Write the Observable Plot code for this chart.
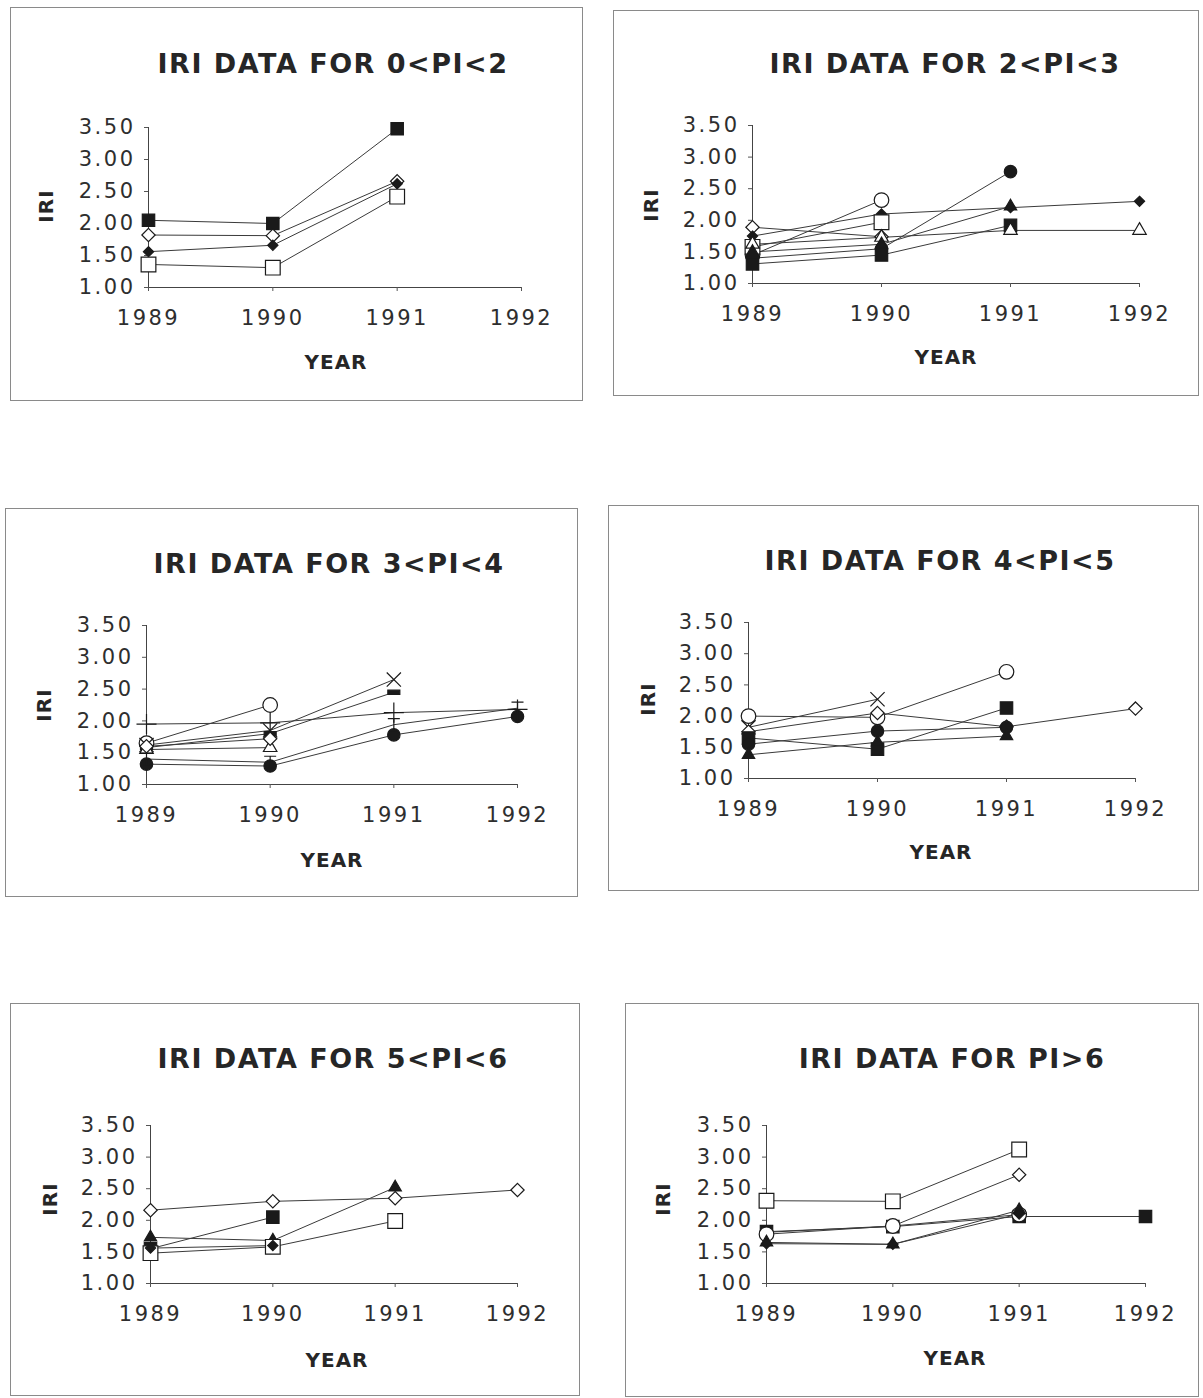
<!DOCTYPE html>
<html>
<head>
<meta charset="utf-8">
<script src="https://cdn.jsdelivr.net/npm/d3@7"></script>
<script src="https://cdn.jsdelivr.net/npm/@observablehq/plot@0.6"></script>
<style>
  body { margin: 0; background: #fff; }
  #page { position: relative; width: 1203px; height: 1398px; overflow: hidden; background: #fff; }
  .box { position: absolute; border: 1.5px solid #8a8a8a; box-sizing: border-box; }
  .title { position: absolute; font-family: "DejaVu Sans"; font-weight: bold; font-size: 27px; letter-spacing: 1.5px; color: #262626; white-space: nowrap; transform: translate(-50%, -50%); }
  .xlab { position: absolute; font-family: "DejaVu Sans"; font-weight: bold; font-size: 20px; letter-spacing: 1px; color: #262626; white-space: nowrap; transform: translate(-50%, -50%); }
  .ylab { position: absolute; font-family: "DejaVu Sans"; font-weight: bold; font-size: 20px; letter-spacing: 1px; color: #262626; white-space: nowrap; transform: translate(-50%, -50%) rotate(-90deg); }
  .chart { position: absolute; }
  #page svg text { letter-spacing: 2.5px; }
</style>
</head>
<body>
<div id="page"></div>
<script>
// ---------- data ----------
const years = [1989, 1990, 1991, 1992];
const yTicks = [1.00, 1.50, 2.00, 2.50, 3.00, 3.50];
const titles = ["IRI DATA FOR 0<PI<2", "IRI DATA FOR 2<PI<3", "IRI DATA FOR 3<PI<4",
                "IRI DATA FOR 4<PI<5", "IRI DATA FOR 5<PI<6", "IRI DATA FOR PI>6"];
const xTitle = "YEAR";
const yTitle = "IRI";

// Panel 1: 0<PI<2
const p1Markers = ["filled square", "open diamond", "filled diamond", "open square"];
const p1Values = [
  [2.05, 2.00, 3.48],
  [1.82, 1.81, 2.66],
  [1.56, 1.66, 2.62],
  [1.36, 1.31, 2.42]
];

// Panel 2: 2<PI<3
const p2Markers = ["open diamond", "filled diamond", "open circle", "open square",
                   "filled circle", "filled square", "open triangle", "filled triangle"];
const p2Values = [
  [1.89, 1.74],
  [1.75, 2.10, 2.20, 2.30],
  [1.45, 2.32],
  [1.58, 1.97],
  [1.40, 1.55, 2.77],
  [1.31, 1.45, 1.92],
  [1.62, 1.73, 1.84, 1.84],
  [1.50, 1.62, 2.22]
];

// Panel 3: 3<PI<4
const p3Markers = ["open circle", "filled circle", "cross", "bar", "plus",
                   "open triangle", "open diamond", "ibeam"];
const p3Values = [
  [1.65, 2.25],
  [1.32, 1.29, 1.78, 2.07],
  [1.62, 1.85, 2.65],
  [1.58, 1.80, 2.45],
  [1.95, 1.97, 2.13, 2.18],
  [1.55, 1.58],
  [1.60, 1.72],
  [1.40, 1.35, 1.94, 2.20]
];

// Panel 4: 4<PI<5
const p4Markers = ["open circle", "cross", "open diamond", "filled square",
                   "filled circle", "filled triangle"];
const p4Values = [
  [2.00, 1.98, 2.71],
  [1.82, 2.27],
  [1.75, 2.05, 1.83, 2.12],
  [1.65, 1.47, 2.13],
  [1.55, 1.76, 1.82],
  [1.38, 1.58, 1.68]
];

// Panel 5: 5<PI<6
const p5Markers = ["open diamond", "filled square", "filled triangle", "open square", "filled diamond"];
const p5Values = [
  [2.16, 2.30, 2.35, 2.48],
  [1.55, 2.05],
  [1.73, 1.68, 2.52],
  [1.48, 1.58, 1.99],
  [1.56, 1.60]
];

// Panel 6: PI>6
const p6Markers = ["open square", "open diamond", "filled square", "open circle",
                   "filled triangle", "filled diamond"];
const p6Values = [
  [2.31, 2.30, 3.12],
  [1.81, 1.91, 2.72],
  [1.82, 1.90, 2.06, 2.06],
  [1.78, 1.91, 2.09],
  [1.65, 1.62, 2.16],
  [1.63, 1.62, 2.10]
];

// ---------- styles & layout ----------
const INK = "#1a1a1a";
const dashSymbol = {
  draw(ctx, size) { const r = Math.sqrt(size / Math.PI); ctx.rect(-r, -r * 0.35, 2 * r, r * 0.7); }
};
const ibeamSymbol = {
  draw(ctx, size) {
    const r = Math.sqrt(size / Math.PI);
    ctx.moveTo(-r, -r); ctx.lineTo(r, -r);
    ctx.moveTo(0, -r); ctx.lineTo(0, r);
    ctx.moveTo(-r * 0.5, r); ctx.lineTo(r * 0.5, r);
  }
};
const markerStyle = {
  "filled square":   {symbol: "square", fill: INK, r: 7},
  "open square":     {symbol: "square", fill: "white", r: 8.3},
  "filled diamond":  {symbol: "diamond2", fill: INK, r: 4.6},
  "open diamond":    {symbol: "diamond2", fill: "white", r: 6},
  "filled circle":   {symbol: "circle", fill: INK, r: 6.2},
  "open circle":     {symbol: "circle", fill: "white", r: 7.3},
  "filled triangle": {symbol: "triangle", fill: INK, r: 4.6},
  "open triangle":   {symbol: "triangle", fill: "white", r: 5},
  "cross":           {symbol: "times", fill: "none", r: 6.5},
  "plus":            {symbol: "plus", fill: "none", r: 6.5},
  "bar":             {symbol: dashSymbol, fill: INK, r: 6},
  "ibeam":           {symbol: ibeamSymbol, fill: "none", r: 6}
};

const layout = [
  {box: [10, 7, 583, 401],     x0: 148, x3: 521,  yTop: 127,  yBot: 287,  title: [333, 63],   year: [336, 362],  iri: [46, 206]},
  {box: [613, 10, 1199, 396],  x0: 752, x3: 1139, yTop: 125,  yBot: 283,  title: [945, 63],   year: [946, 357],  iri: [651, 205]},
  {box: [5, 508, 578, 897],    x0: 146, x3: 517,  yTop: 625,  yBot: 784,  title: [329, 563],  year: [332, 860],  iri: [44, 705]},
  {box: [608, 505, 1199, 891], x0: 748, x3: 1135, yTop: 622,  yBot: 778,  title: [940, 560],  year: [941, 852],  iri: [648, 699]},
  {box: [10, 1003, 580, 1396], x0: 150, x3: 517,  yTop: 1125, yBot: 1283, title: [333, 1058], year: [337, 1360], iri: [50, 1199]},
  {box: [625, 1003, 1199, 1397], x0: 766, x3: 1145, yTop: 1125, yBot: 1283, title: [952, 1058], year: [955, 1358], iri: [663, 1199]}
];

const panels = [
  [p1Markers, p1Values], [p2Markers, p2Values], [p3Markers, p3Values],
  [p4Markers, p4Values], [p5Markers, p5Values], [p6Markers, p6Values]
];

const page = document.getElementById("page");

function addText(cls, txt, pos) {
  const d = document.createElement("div");
  d.className = cls;
  d.textContent = txt;
  d.style.left = pos[0] + "px";
  d.style.top = pos[1] + "px";
  page.appendChild(d);
}

panels.forEach(([markers, values], i) => {
  const L = layout[i];
  const [bl, bt, br, bb] = L.box;
  const width = br - bl, height = bb - bt;

  const box = document.createElement("div");
  box.className = "box";
  Object.assign(box.style, {left: bl + "px", top: bt + "px", width: width + "px", height: height + "px"});
  page.appendChild(box);

  const series = values.map((vals, k) => ({
    marker: markers[k],
    rows: vals.map((v, j) => ({year: years[j], iri: v}))
  }));

  const marks = [
    Plot.ruleX([1989], {y1: 1, y2: 3.5, stroke: "#444", strokeWidth: 1}),
    Plot.ruleY([1], {x1: 1989, x2: 1992, stroke: "#444", strokeWidth: 1}),
    Plot.axisY(yTicks, {tickFormat: d => d.toFixed(2), tickSize: 4, tickPadding: 9, label: null, stroke: "#555"}),
    Plot.axisX(years, {tickFormat: d => String(d), tickSize: 4, tickPadding: 19, label: null, stroke: "#555"})
  ];
  series.forEach(s => marks.push(Plot.line(s.rows, {x: "year", y: "iri", stroke: "#3a3a3a", strokeWidth: 1})));
  series.forEach(s => {
    const st = markerStyle[s.marker];
    marks.push(Plot.dot(s.rows, {x: "year", y: "iri", symbol: st.symbol, r: st.r, fill: st.fill, stroke: INK, strokeWidth: 1.2}));
  });

  const svg = Plot.plot({
    width, height,
    marginLeft: L.x0 - bl, marginRight: br - L.x3,
    marginTop: L.yTop - bt, marginBottom: bb - L.yBot,
    style: {fontFamily: "DejaVu Sans", fontSize: "21px", color: "#2e2e2e", background: "none", overflow: "visible"},
    x: {domain: [1989, 1992]},
    y: {domain: [1, 3.5]},
    marks
  });
  svg.classList.add("chart");
  svg.style.left = bl + "px";
  svg.style.top = bt + "px";
  page.appendChild(svg);

  addText("title", titles[i], L.title);
  addText("xlab", xTitle, L.year);
  addText("ylab", yTitle, L.iri);
});
</script>
</body>
</html>
